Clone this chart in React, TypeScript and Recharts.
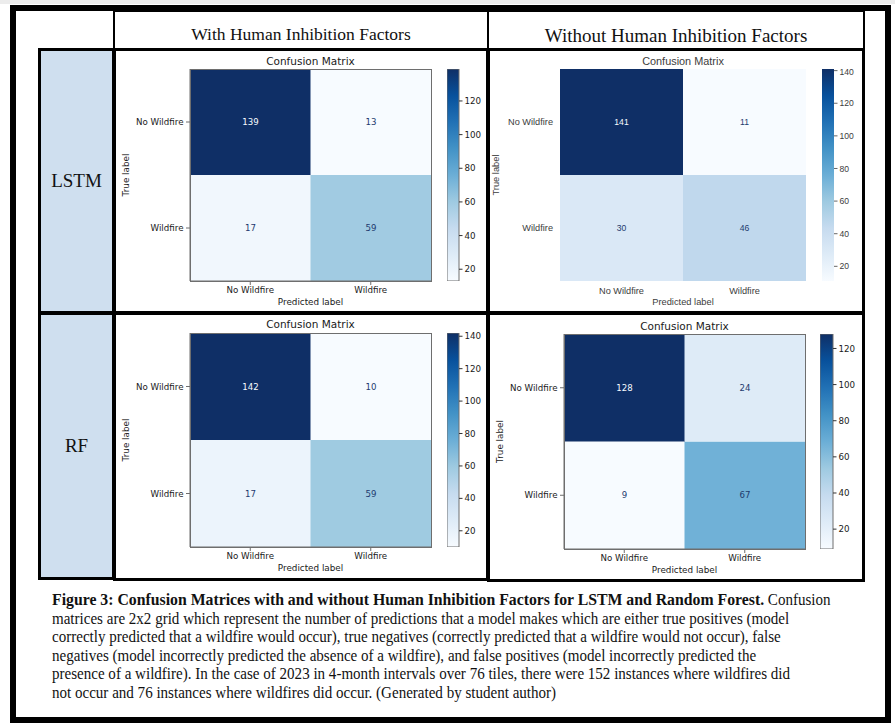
import { BarChart, Bar, XAxis, YAxis, Cell, LabelList } from "recharts";

// axis categories
const predictedLabels = ["No Wildfire", "Wildfire"];
const trueLabels = ["No Wildfire", "Wildfire"];

// confusion matrices, rows = true label, cols = predicted label
const lstmWith = [
  [139, 13],
  [17, 59],
];
const lstmWithout = [
  [141, 11],
  [30, 46],
];
const rfWith = [
  [142, 10],
  [17, 59],
];
const rfWithout = [
  [128, 24],
  [9, 67],
];

// colorbar ticks
const lstmWithTicks = [20, 40, 60, 80, 100, 120];
const lstmWithoutTicks = [20, 40, 60, 80, 100, 120, 140];
const rfWithTicks = [20, 40, 60, 80, 100, 120, 140];
const rfWithoutTicks = [20, 40, 60, 80, 100, 120];

const captionBold =
  "Figure 3: Confusion Matrices with and without Human Inhibition Factors for LSTM and Random Forest.";
const captionLines = [
  " Confusion",
  "matrices are 2x2 grid which represent the number of predictions that a model makes which are either true positives (model",
  "correctly predicted that a wildfire would occur), true negatives (correctly predicted that a wildfire would not occur), false",
  "negatives (model incorrectly predicted the absence of a wildfire), and false positives (model incorrectly predicted the",
  "presence of a wildfire). In the case of 2023 in 4-month intervals over 76 tiles, there were 152 instances where wildfires did",
  "not occur and 76 instances where wildfires did occur. (Generated by student author)",
];

// matplotlib "Blues"
const BLUES = ["#f7fbff", "#deebf7", "#c6dbef", "#9ecae1", "#6baed6", "#4292c6", "#2171b5", "#08519c", "#0f2f66"];

const hex = (c: string) => [1, 3, 5].map((i) => parseInt(c.slice(i, i + 2), 16));
const blues = (t: number) => {
  const p = Math.max(0, Math.min(1, t)) * (BLUES.length - 1);
  const i = Math.min(BLUES.length - 2, Math.floor(p));
  const f = p - i;
  const a = hex(BLUES[i]);
  const b = hex(BLUES[i + 1]);
  const m = a.map((v, k) => Math.round(v + (b[k] - v) * f));
  return `rgb(${m[0]},${m[1]},${m[2]})`;
};

type Rect = { x: number; y: number; w: number; h: number };

const Panel = ({
  id,
  matrix,
  ticks,
  plot,
  barX,
  barW,
  titleY,
  sns,
}: {
  id: string;
  matrix: number[][];
  ticks: number[];
  plot: Rect;
  barX: number;
  barW: number;
  titleY: number;
  sns?: boolean;
}) => {
  const flat = matrix.flat();
  const lo = Math.min(...flat);
  const hi = Math.max(...flat);
  const thresh = (lo + hi) / 2;
  const norm = (v: number) => (v - lo) / (hi - lo);
  const rows = predictedLabels.map((p, i) => ({ pred: p, nw: matrix[0][i], wf: matrix[1][i] }));
  const font = sns ? "'Liberation Sans', Arial, sans-serif" : "'DejaVu Sans', sans-serif";
  const txt = sns ? "#3c3c3c" : "#1a1a1a";
  const spine = "#6e6e6e";
  const fs = sns ? 9.2 : 8.7;
  const tick = { fontSize: fs, fill: txt, fontFamily: font };
  const cellLabel = (p: any) => {
    const v = Number(p.value);
    return (
      <text
        x={Number(p.x) + Number(p.width) / 2}
        y={Number(p.y) + Number(p.height) / 2}
        textAnchor="middle"
        dominantBaseline="central"
        fontSize={sns ? 8.6 : 8.6}
        fontFamily={font}
        fill={v >= thresh ? "#f7fbff" : "#1d3a6e"}
      >
        {v}
      </text>
    );
  };

  return (
    <>
      <div
        style={{
          position: "absolute",
          left: plot.x + plot.w / 2 - 100,
          width: 200,
          top: titleY - 7,
          height: 14,
          lineHeight: "14px",
          textAlign: "center",
          fontFamily: font,
          fontSize: sns ? 10.9 : 10.5,
          color: txt,
        }}
      >
        Confusion Matrix
      </div>
      <div style={{ position: "absolute", left: plot.x - 80, top: plot.y - 2 }}>
        <BarChart
          width={plot.w + 82}
          height={plot.h + 32}
          data={rows}
          margin={{ top: 2, right: 2, bottom: 0, left: 0 }}
          barCategoryGap={0}
          barGap={0}
        >
          <XAxis
            dataKey="pred"
            type="category"
            height={30}
            tick={tick}
            tickSize={4}
            tickMargin={2}
            tickLine={sns ? false : { stroke: spine }}
            axisLine={sns ? false : { stroke: spine }}
            label={{
              value: "Predicted label",
              position: "insideBottom",
              offset: 6,
              fontSize: sns ? 9.3 : 8.8,
              fill: txt,
              fontFamily: font,
            }}
          />
          <YAxis
            type="number"
            domain={[0, 2]}
            ticks={[0.5, 1.5]}
            tickFormatter={(v: number) => (v > 1 ? trueLabels[0] : trueLabels[1])}
            width={80}
            tick={tick}
            tickSize={sns ? 7 : 4}
            tickMargin={sns ? 0 : 2.5}
            tickLine={sns ? false : { stroke: spine }}
            axisLine={sns ? false : { stroke: spine }}
            label={{
              value: "True label",
              angle: -90,
              position: "insideLeft",
              offset: 16,
              fontSize: sns ? 9.3 : 8.8,
              fill: txt,
              fontFamily: font,
              style: { textAnchor: "middle" },
            }}
          />
          <Bar dataKey={() => 1} stackId="m" isAnimationActive={false}>
            {rows.map((r, i) => (
              <Cell key={`wf-${i}`} fill={blues(norm(r.wf))} />
            ))}
            <LabelList dataKey="wf" content={cellLabel} />
          </Bar>
          <Bar dataKey={() => 1} stackId="m" isAnimationActive={false}>
            {rows.map((r, i) => (
              <Cell key={`nw-${i}`} fill={blues(norm(r.nw))} />
            ))}
            <LabelList dataKey="nw" content={cellLabel} />
          </Bar>
        </BarChart>
      </div>
      {!sns && (
        <div
          style={{
            position: "absolute",
            left: plot.x - 0.5,
            top: plot.y - 0.5,
            width: plot.w + 1,
            height: plot.h + 1,
            border: `1px solid ${spine}`,
            boxSizing: "border-box",
            pointerEvents: "none",
          }}
        />
      )}
      <div style={{ position: "absolute", left: barX, top: plot.y - 2 }}>
        <BarChart
          width={barW + 40}
          height={plot.h + 4}
          data={[{ range: [lo, hi] }]}
          margin={{ top: 2, right: 0, bottom: 2, left: 0 }}
          barCategoryGap={0}
        >
          <defs>
            <linearGradient id={id} x1="0" y1="1" x2="0" y2="0">
              {BLUES.map((c, i) => (
                <stop key={c} offset={i / (BLUES.length - 1)} stopColor={c} />
              ))}
            </linearGradient>
          </defs>
          <XAxis hide />
          <YAxis
            orientation="right"
            type="number"
            domain={[lo, hi]}
            ticks={ticks}
            allowDataOverflow
            width={40}
            tick={{ ...tick, fontSize: sns ? 8.6 : 8.7 }}
            tickSize={3.5}
            tickMargin={2}
            tickLine={{ stroke: sns ? "#666" : "#333" }}
            axisLine={false}
          />
          <Bar
            dataKey="range"
            fill={`url(#${id})`}
            stroke={sns ? "none" : spine}
            strokeWidth={1}
            isAnimationActive={false}
          />
        </BarChart>
      </div>
    </>
  );
};

const box = (left: number, top: number, width: number, height: number, bw: number, bg = "transparent") => ({
  position: "absolute" as const,
  left,
  top,
  width,
  height,
  border: `${bw}px solid #000`,
  boxSizing: "border-box" as const,
  background: bg,
});

export default function App() {
  const serif = "'Liberation Serif', 'Times New Roman', serif";
  const centered = (left: number, width: number, top: number, size: number) => ({
    position: "absolute" as const,
    left,
    width,
    top,
    height: 24,
    lineHeight: "24px",
    textAlign: "center" as const,
    fontFamily: serif,
    fontSize: size,
    color: "#111",
  });
  return (
    <div
      style={{
        position: "absolute",
        left: 0,
        top: 0,
        width: 895,
        height: 723,
        background: "#fff",
        overflow: "hidden",
      }}
    >
      <div style={{ position: "absolute", left: 0, top: 0, width: 895, height: 4, background: "#ececec" }} />
      <div style={box(10, 5, 881, 718, 6)} />

      {/* header row */}
      <div style={box(113, 10, 376, 40, 2)} />
      <div style={box(487, 10, 378, 41, 2)} />
      <div style={centered(113, 376, 22, 17.5)}>With Human Inhibition Factors</div>
      <div style={centered(487, 378, 24, 19)}>Without Human Inhibition Factors</div>

      {/* row labels */}
      <div style={box(38, 48, 77, 266, 3, "#cfdfef")} />
      <div style={box(38, 312, 77, 268, 3, "#cfdfef")} />
      <div style={centered(38, 77, 169, 19)}>LSTM</div>
      <div style={centered(38, 77, 434, 19)}>RF</div>

      {/* panels */}
      <div style={box(113, 48, 376, 266, 3)} />
      <div style={box(487, 48, 378, 266, 3)} />
      <div style={box(113, 312, 376, 269, 3)} />
      <div style={box(487, 312, 378, 270, 3)} />

      <Panel
        id="g1"
        matrix={lstmWith}
        ticks={lstmWithTicks}
        plot={{ x: 190, y: 69, w: 241, h: 212 }}
        barX={447}
        barW={12}
        titleY={61}
      />
      <Panel
        id="g2"
        matrix={lstmWithout}
        ticks={lstmWithoutTicks}
        plot={{ x: 560, y: 69, w: 246, h: 212 }}
        barX={822}
        barW={12}
        titleY={61}
        sns
      />
      <Panel
        id="g3"
        matrix={rfWith}
        ticks={rfWithTicks}
        plot={{ x: 190, y: 333, w: 241, h: 214 }}
        barX={447}
        barW={12}
        titleY={324}
      />
      <Panel
        id="g4"
        matrix={rfWithout}
        ticks={rfWithoutTicks}
        plot={{ x: 564, y: 334, w: 241, h: 215 }}
        barX={820}
        barW={13}
        titleY={326}
      />

      {/* caption */}
      <div
        style={{
          position: "absolute",
          left: 52,
          top: 591,
          fontFamily: serif,
          fontSize: 16,
          lineHeight: "18.6px",
          color: "#111",
          whiteSpace: "nowrap",
          transform: "scaleX(0.94)",
          transformOrigin: "left top",
        }}
      >
        {captionLines.map((line, i) => (
          <div key={i}>
            {i === 0 && <b style={{ fontSize: 16.8 }}>{captionBold}</b>}
            {line}
          </div>
        ))}
      </div>
    </div>
  );
}
